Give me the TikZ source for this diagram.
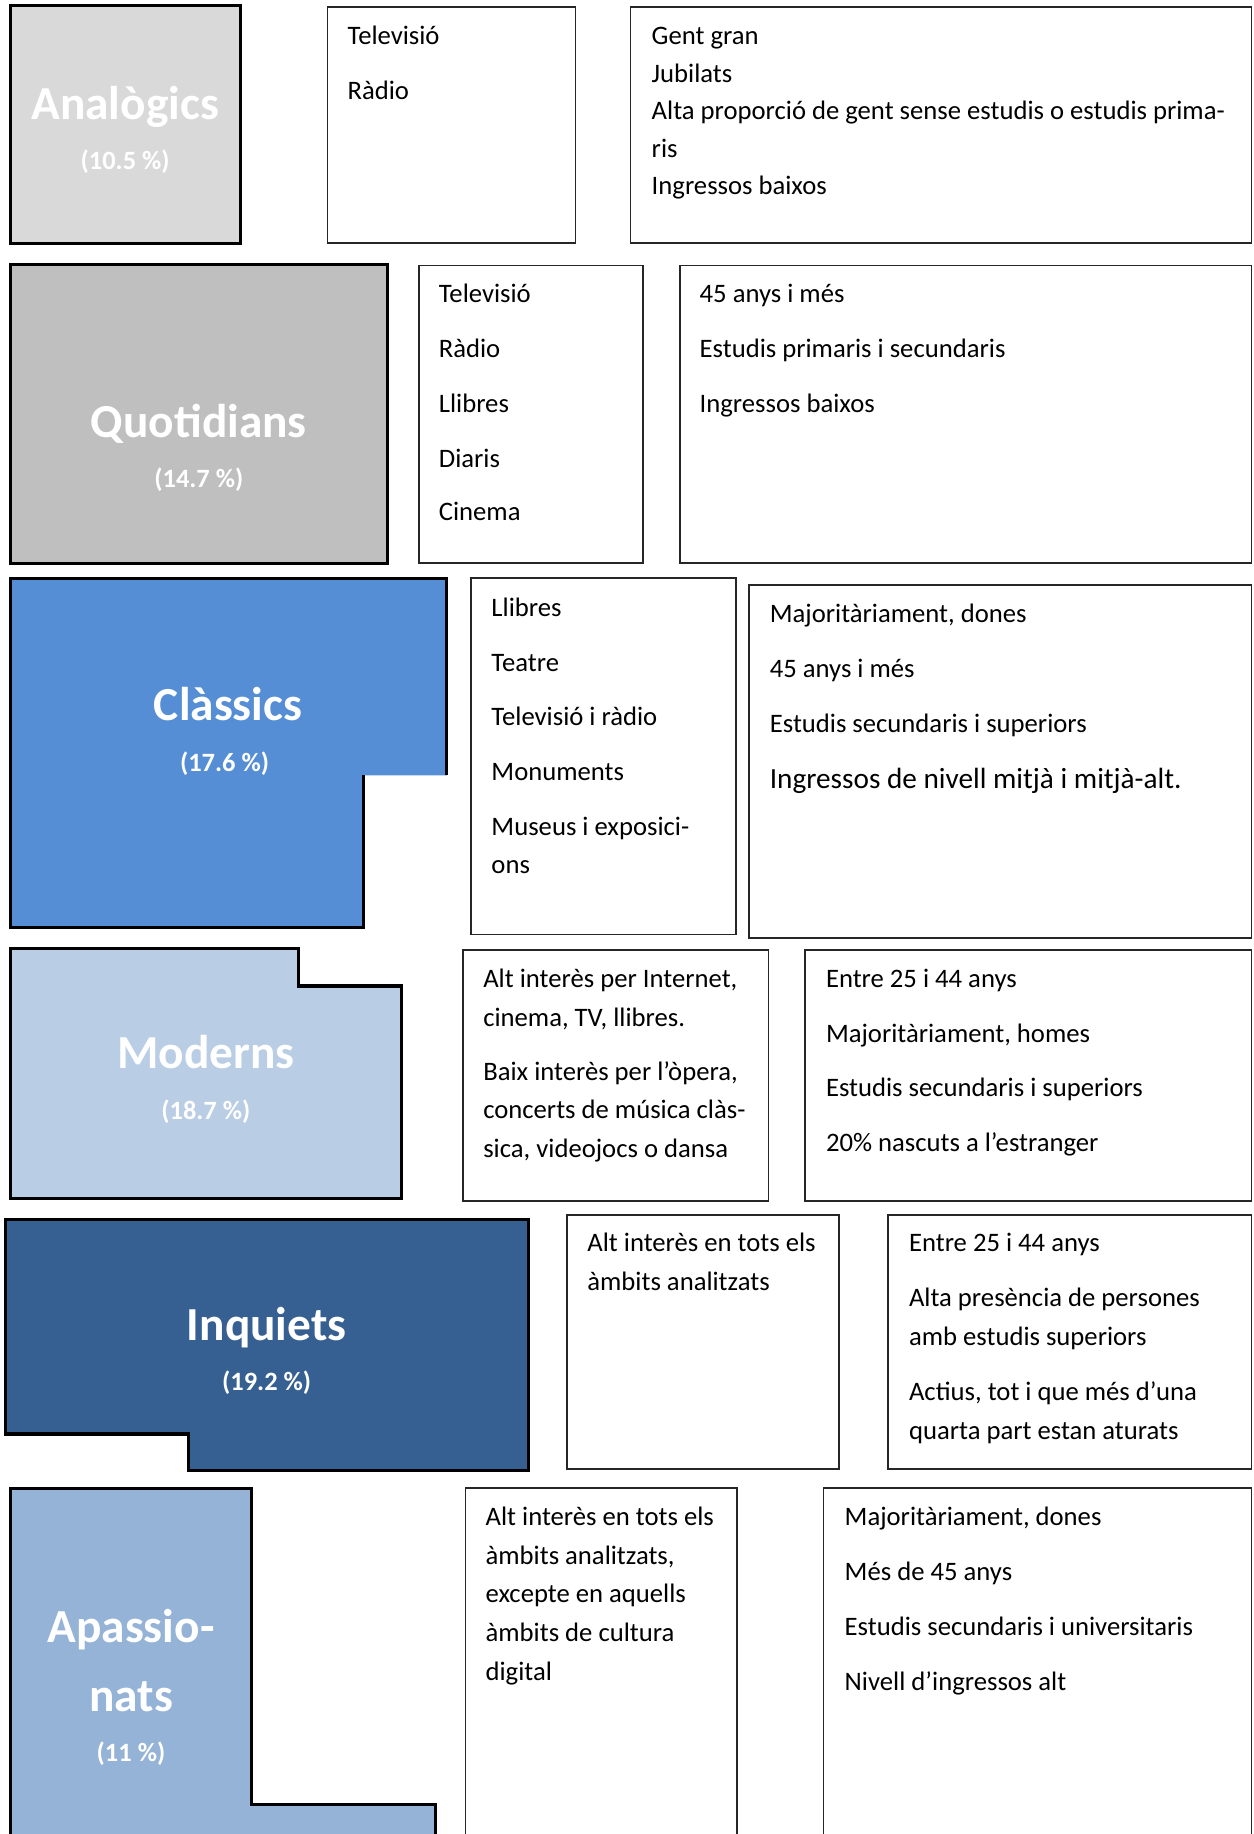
\documentclass[tikz,border=0pt]{standalone}
\usepackage{fontspec}
\setmainfont{Carlito}
\definecolor{cAna}{HTML}{D9D9D9}
\definecolor{cQuo}{HTML}{BFBFBF}
\definecolor{cCla}{HTML}{558ED5}
\definecolor{cMod}{HTML}{B9CDE5}
\definecolor{cInq}{HTML}{376092}
\definecolor{cApa}{HTML}{95B3D7}
\newcommand\bodyfnt{\fontsize{22.8}{27}\selectfont}
\newcommand\bigbodyfnt{\fontsize{25}{30}\selectfont}
\newcommand\headfnt{\fontsize{40.5}{48}\selectfont\bfseries}
\newcommand\pctfnt{\fontsize{22.6}{27}\selectfont\bfseries}
\tikzset{
  segline/.style={draw=black, line width=2.6pt, line join=miter},
  tbox/.style={draw=black!85, line width=1.6pt},
  txt/.style={anchor=mid west, inner sep=0pt, font=\bodyfnt, yshift=-6pt},
  headtxt/.style={anchor=mid, inner sep=0pt, text=white, font=\headfnt, yshift=-8pt},
  pcttxt/.style={anchor=mid, inner sep=0pt, text=white, font=\pctfnt, yshift=-4.5pt},
}
\begin{document}
\begin{tikzpicture}[x=1pt,y=-1pt]
\useasboundingbox (0,0) rectangle (1072,1568);
\clip (0,0) rectangle (1072,1568);
\fill[white] (0,0) rectangle (1072,1568);

% ---------- Row 1: Analogics ----------
\draw[segline, fill=cAna] (9,5) rectangle (206,208);
\node[headtxt] (anaT) at (107,92) {Analògics};
\node[pcttxt] (anaP) at (107,138) {(10.5 \%)};
\draw[tbox] (280,6) rectangle (492,208);
\node[txt] (a2l1) at (297,30) {Televisió};
\node[txt] (a2l2) at (297,77) {Ràdio};
\draw[tbox] (539,6) rectangle (1070,208);
\node[txt] (a3l1) at (557,30) {Gent gran};
\node[txt] (a3l2) at (557,62) {Jubilats};
\node[txt] (a3l3) at (557,94) {Alta proporció de gent sense estudis o estudis prima-};
\node[txt] (a3l4) at (557,126) {ris};
\node[txt] (a3l5) at (557,158) {Ingressos baixos};

% ---------- Row 2: Quotidians ----------
\draw[segline, fill=cQuo] (9,226) rectangle (331,482);
\node[headtxt] (quoT) at (170,364) {Quotidians};
\node[pcttxt] (quoP) at (170,410) {(14.7 \%)};
\draw[tbox] (358,227) rectangle (550,481);
\node[txt] (b2l1) at (375,250) {Televisió};
\node[txt] (b2l2) at (375,297) {Ràdio};
\node[txt] (b2l3) at (375,344) {Llibres};
\node[txt] (b2l4) at (375,391) {Diaris};
\node[txt] (b2l5) at (375,437) {Cinema};
\draw[tbox] (581,227) rectangle (1070,481);
\node[txt] (b3l1) at (598,250) {45 anys i més};
\node[txt] (b3l2) at (598,297) {Estudis primaris i secundaris};
\node[txt] (b3l3) at (598,344) {Ingressos baixos};

% ---------- Row 3: Classics ----------
\fill[cCla] (9,495) -- (382,495) -- (382,663) -- (311,663) -- (311,793) -- (9,793) -- cycle;
\draw[segline] (382,663) -- (382,495) -- (9,495) -- (9,793) -- (311,793) -- (311,663);
\node[headtxt] (claT) at (195,606) {Clàssics};
\node[pcttxt] (claP) at (192,653) {(17.6 \%)};
\draw[tbox] (403,494) rectangle (629,799);
\node[txt] (c2l1) at (420,519) {Llibres};
\node[txt] (c2l2) at (420,566) {Teatre};
\node[txt] (c2l3) at (420,612) {Televisió i ràdio};
\node[txt] (c2l4) at (420,659) {Monuments};
\node[txt] (c2l5) at (420,706) {Museus i exposici-};
\node[txt] (c2l6) at (420,738) {ons};
\draw[tbox] (640,500) rectangle (1070,802);
\node[txt] (c3l1) at (658,524) {Majoritàriament, dones};
\node[txt] (c3l2) at (658,571) {45 anys i més};
\node[txt] (c3l3) at (658,618) {Estudis secundaris i superiors};
\node[txt, font=\bigbodyfnt] (c3l4) at (658,666) {Ingressos de nivell mitjà i mitjà-alt.};

% ---------- Row 4: Moderns ----------
\draw[segline, fill=cMod] (9,811) -- (255,811) -- (255,843) -- (343,843) -- (343,1025) -- (9,1025) -- cycle;
\node[headtxt] (modT) at (176,903) {Moderns};
\node[pcttxt] (modP) at (176,950) {(18.7 \%)};
\draw[tbox] (396,812) rectangle (657,1027);
\node[txt] (d2l1) at (413,836) {Alt interès per Internet,};
\node[txt] (d2l2) at (413,869) {cinema, TV, llibres.};
\node[txt] (d2l3) at (413,915) {Baix interès per l’òpera,};
\node[txt] (d2l4) at (413,948) {concerts de música clàs-};
\node[txt] (d2l5) at (413,981) {sica, videojocs o dansa};
\draw[tbox] (688,812) rectangle (1070,1027);
\node[txt] (d3l1) at (706,836) {Entre 25 i 44 anys};
\node[txt] (d3l2) at (706,883) {Majoritàriament, homes};
\node[txt] (d3l3) at (706,929) {Estudis secundaris i superiors};
\node[txt] (d3l4) at (706,976) {20\% nascuts a l’estranger};

% ---------- Row 5: Inquiets ----------
\draw[segline, fill=cInq] (5,1043) -- (452,1043) -- (452,1257) -- (161,1257) -- (161,1226) -- (5,1226) -- cycle;
\node[headtxt] (inqT) at (228,1136) {Inquiets};
\node[pcttxt] (inqP) at (228,1182) {(19.2 \%)};
\draw[tbox] (485,1039) rectangle (717,1256);
\node[txt] (e2l1) at (502,1062) {Alt interès en tots els};
\node[txt] (e2l2) at (502,1095) {àmbits analitzats};
\draw[tbox] (759,1039) rectangle (1070,1256);
\node[txt] (e3l1) at (777,1062) {Entre 25 i 44 anys};
\node[txt] (e3l2) at (777,1109) {Alta presència de persones};
\node[txt] (e3l3) at (777,1142) {amb estudis superiors};
\node[txt] (e3l4) at (777,1189) {Actius, tot i que més d’una};
\node[txt] (e3l5) at (777,1222) {quarta part estan aturats};

% ---------- Row 6: Apassionats ----------
\draw[segline, fill=cApa] (9,1600) -- (9,1273) -- (215,1273) -- (215,1543) -- (372,1543) -- (372,1600);
\node[headtxt] (apaT1) at (112,1394) {Apassio-};
\node[headtxt] (apaT2) at (112,1453) {nats};
\node[pcttxt] (apaP) at (112,1499) {(11 \%)};
\draw[tbox] (398,1600) -- (398,1272) -- (630,1272) -- (630,1600);
\node[txt] (f2l1) at (415,1296) {Alt interès en tots els};
\node[txt] (f2l2) at (415,1329) {àmbits analitzats,};
\node[txt] (f2l3) at (415,1362) {excepte en aquells};
\node[txt] (f2l4) at (415,1395) {àmbits de cultura};
\node[txt] (f2l5) at (415,1428) {digital};
\draw[tbox] (704,1600) -- (704,1272) -- (1070,1272) -- (1070,1600);
\node[txt] (f3l1) at (722,1296) {Majoritàriament, dones};
\node[txt] (f3l2) at (722,1343) {Més de 45 anys};
\node[txt] (f3l3) at (722,1390) {Estudis secundaris i universitaris};
\node[txt] (f3l4) at (722,1437) {Nivell d’ingressos alt};
\end{tikzpicture}
\end{document}
